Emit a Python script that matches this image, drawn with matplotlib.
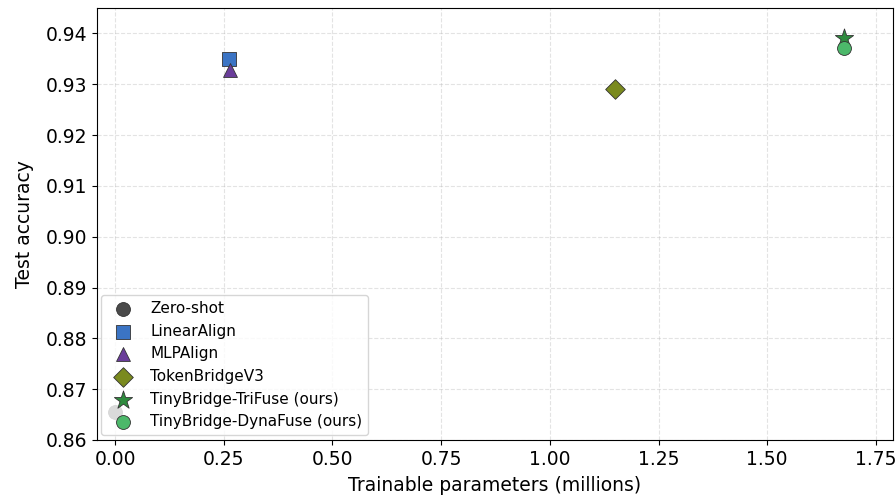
import matplotlib.pyplot as plt

methods = ['Zero-shot', 'LinearAlign', 'MLPAlign', 'TokenBridgeV3',
           'TinyBridge-TriFuse (ours)', 'TinyBridge-DynaFuse (ours)']
params_m = [0.0, 0.262, 0.265, 1.151, 1.676, 1.676]
accuracy = [0.8655, 0.9349, 0.9329, 0.9290, 0.9392, 0.9372]
markers = ['o', 's', '^', 'D', '*', 'o']
colors = ['#4a4a4a', '#3b74c4', '#6a3d9a', '#7a8a1e', '#2e8b3e', '#4cb86a']
sizes = [100, 100, 100, 100, 190, 100]

fig, ax = plt.subplots(figsize=(8.96, 5.04), dpi=100)
for name, x, y, m, c, s in zip(methods, params_m, accuracy, markers, colors, sizes):
    ax.scatter(x, y, marker=m, s=s, color=c, edgecolor='#333333', linewidth=0.6,
               label=name, zorder=3)

ax.set_xlim(-0.042, 1.79)
ax.set_ylim(0.86, 0.945)
ax.set_xlabel('Trainable parameters (millions)', fontsize=13.5, labelpad=5)
ax.set_ylabel('Test accuracy', fontsize=13.5, labelpad=8)
ax.tick_params(labelsize=13.5)
ax.grid(True, linestyle='--', alpha=0.35)
ax.legend(loc='lower left', fontsize=11, framealpha=0.8, borderaxespad=0.3)

fig.subplots_adjust(left=0.108, right=0.997, top=0.984, bottom=0.127)
fig.savefig('out.png', dpi=100)
